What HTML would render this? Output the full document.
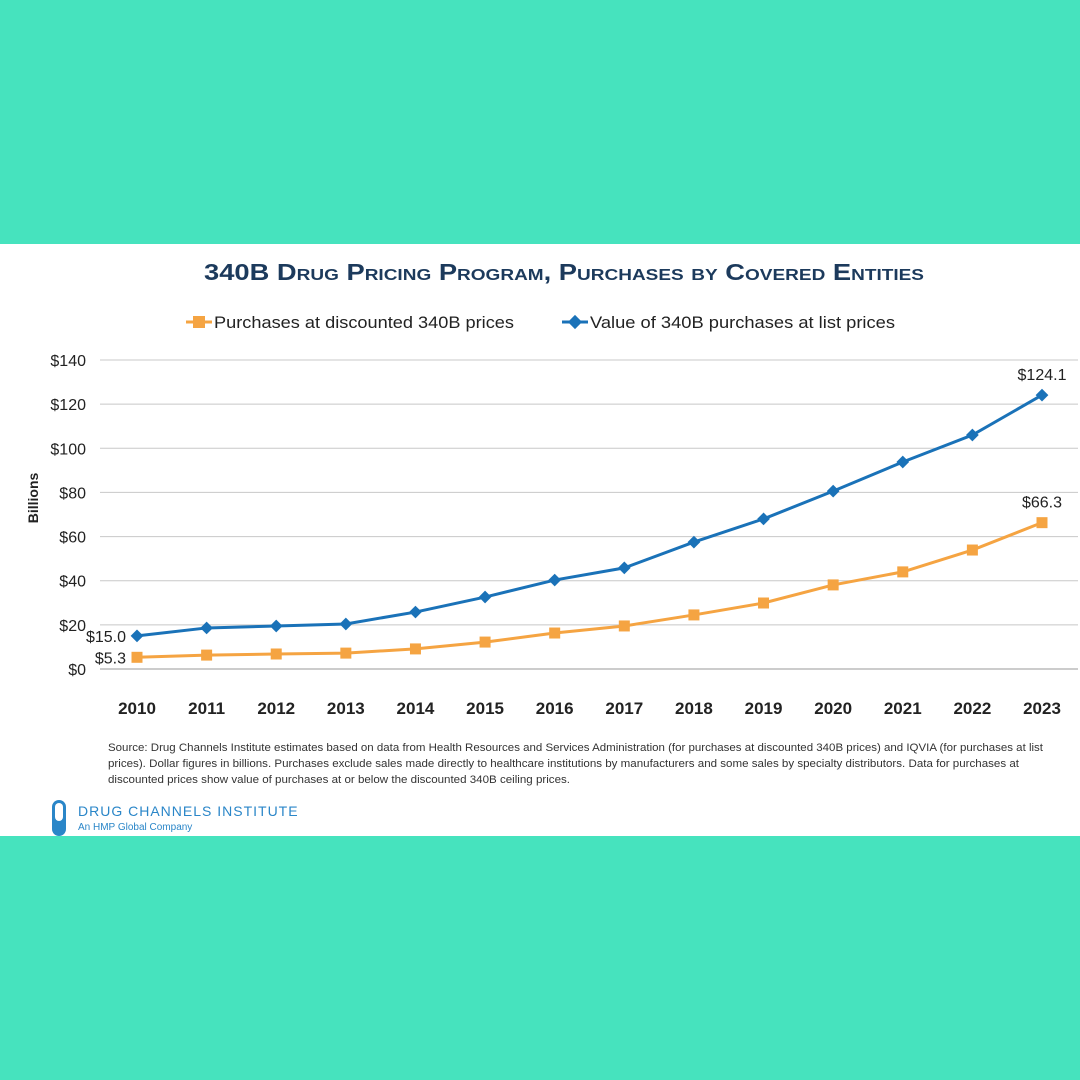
<!DOCTYPE html>
<html><head><meta charset="utf-8"><style>
body{margin:0;width:1080px;height:1080px;background:#46E3BE;font-family:"Liberation Sans",sans-serif;overflow:hidden}
#white{position:absolute;left:0;top:244px;width:1080px;height:592px;background:#fff}
</style></head><body>
<div id="white"></div>
<svg id="chart" width="1080" height="1080" style="position:absolute;left:0;top:0">
<text x="564" y="280" text-anchor="middle" fill="#1C3A5C" font-weight="bold" font-size="23" style="font-variant:small-caps" textLength="720" lengthAdjust="spacingAndGlyphs">340B Drug Pricing Program, Purchases by Covered Entities</text>
<g>
<line x1="186" y1="322" x2="212" y2="322" stroke="#F5A442" stroke-width="3"/><rect x="193" y="316" width="12" height="12" fill="#F5A442"/>
<text x="214" y="328" font-size="17" fill="#222" textLength="300" lengthAdjust="spacingAndGlyphs">Purchases at discounted 340B prices</text>
<line x1="562" y1="322" x2="588" y2="322" stroke="#1A72B8" stroke-width="3"/><rect x="570" y="317" width="10" height="10" fill="#1A72B8" transform="rotate(45 575 322)"/>
<text x="590" y="328" font-size="17" fill="#222" textLength="305" lengthAdjust="spacingAndGlyphs">Value of 340B purchases at list prices</text>
</g>
<text x="38" y="498" font-size="14" font-weight="bold" fill="#222" text-anchor="middle" transform="rotate(-90 38 498)">Billions</text>
<g id="grid"></g><g id="series"></g>
<text x="108" y="751" font-size="11" fill="#333" textLength="935" lengthAdjust="spacingAndGlyphs">Source: Drug Channels Institute estimates based on data from Health Resources and Services Administration (for purchases at discounted 340B prices) and IQVIA (for purchases at list</text>
<text x="108" y="767" font-size="11" fill="#333" textLength="911" lengthAdjust="spacingAndGlyphs">prices). Dollar figures in billions. Purchases exclude sales made directly to healthcare institutions by manufacturers and some sales by specialty distributors. Data for purchases at</text>
<text x="108" y="783" font-size="11" fill="#333" textLength="462" lengthAdjust="spacingAndGlyphs">discounted prices show value of purchases at or below the discounted 340B ceiling prices.</text>
<g>
<rect x="52" y="800" width="14" height="36" rx="7" fill="#2A86C8"/><rect x="55" y="803" width="8" height="18" rx="4" fill="#fff"/>
<text x="78" y="816" font-size="14" fill="#2A86C8" letter-spacing="1">DRUG CHANNELS INSTITUTE</text>
<text x="78" y="830" font-size="10" fill="#2A86C8">An HMP Global Company</text>
</g>
</svg>
<script>
const years=["2010","2011","2012","2013","2014","2015","2016","2017","2018","2019","2020","2021","2022","2023"];
const listValues=[15.0,18.6,19.5,20.4,25.8,32.6,40.3,45.8,57.5,68.0,80.6,93.8,106.0,124.1];
const discValues=[5.3,6.3,6.8,7.2,9.1,12.2,16.3,19.5,24.5,29.9,38.1,44.0,53.9,66.3];
const yTicks=[0,20,40,60,80,100,120,140];
const NS="http://www.w3.org/2000/svg";
const x=i=>137+i*(1042-137)/(years.length-1);
const y=v=>669-v*(669-360)/140;
function mk(t,a,p){const e=document.createElementNS(NS,t);for(const k in a)e.setAttribute(k,a[k]);p.appendChild(e);return e;}
const grid=document.getElementById('grid'),ser=document.getElementById('series');
yTicks.forEach(v=>{
 const l=mk('line',{x1:100,x2:1078,y1:y(v),y2:y(v),stroke:v===0?'#999':'#c8c8c8','stroke-width':1},grid);
 
 
 const t=mk('text',{x:86,y:y(v)+6,'text-anchor':'end','font-size':16,fill:'#222'},grid);t.textContent='$'+v;
 
 
});
years.forEach((yr,i)=>{
 const t=mk('text',{x:x(i),y:714,'text-anchor':'middle','font-size':17,'font-weight':'bold',fill:'#222'},grid);t.textContent=yr;
 
 
});
function series(vals,color,shape,name){
 const p=mk('polyline',{points:vals.map((v,i)=>x(i)+','+y(v)).join(' '),fill:'none',stroke:color,'stroke-width':3},ser);
 
 
 vals.forEach((v,i)=>{
  let m;
  if(shape==='sq')m=mk('rect',{x:x(i)-5.5,y:y(v)-5.5,width:11,height:11,fill:color},ser);
  else m=mk('rect',{x:x(i)-4.5,y:y(v)-4.5,width:9,height:9,fill:color,transform:`rotate(45 ${x(i)} ${y(v)})`},ser);
  
  
 });
}
series(listValues,'#1A72B8','di','list');
series(discValues,'#F5A442','sq','discounted');
function lab(txt,xx,yy,anchor){const t=mk('text',{x:xx,y:yy,'text-anchor':anchor,'font-size':16,fill:'#222'},ser);t.textContent=txt;
 
 }
const n=years.length-1;
lab('$'+listValues[0].toFixed(1),126,y(listValues[0])+6,'end');
lab('$'+discValues[0].toFixed(1),126,y(discValues[0])+6,'end');
lab('$'+listValues[n].toFixed(1),x(n),y(listValues[n])-15,'middle');
lab('$'+discValues[n].toFixed(1),x(n),y(discValues[n])-15,'middle');
</script>
</body></html>
